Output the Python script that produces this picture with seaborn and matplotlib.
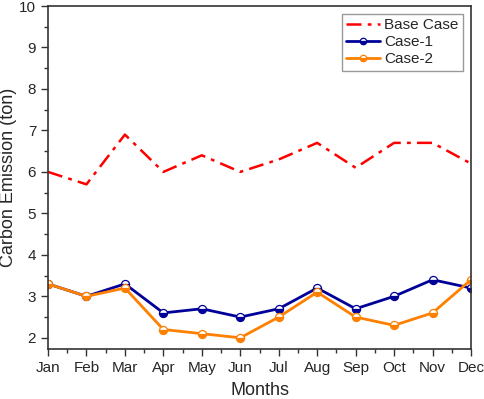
import matplotlib
matplotlib.use("Agg")
import matplotlib.pyplot as plt
import seaborn as sns
import pandas as pd
from matplotlib.ticker import MultipleLocator

months = ["Jan", "Feb", "Mar", "Apr", "May", "Jun", "Jul", "Aug", "Sep", "Oct", "Nov", "Dec"]
base_case = [6.0, 5.7, 6.9, 6.0, 6.4, 6.0, 6.3, 6.7, 6.1, 6.7, 6.7, 6.2]
case_1 = [3.3, 3.0, 3.3, 2.6, 2.7, 2.5, 2.7, 3.2, 2.7, 3.0, 3.4, 3.2]
case_2 = [3.3, 3.0, 3.2, 2.2, 2.1, 2.0, 2.5, 3.1, 2.5, 2.3, 2.6, 3.4]

sns.set_style("ticks")
plt.rcParams["font.family"] = ["Liberation Sans", "DejaVu Sans"]

df = pd.DataFrame({"m": list(range(1, 13)), "Base Case": base_case,
                   "Case-1": case_1, "Case-2": case_2})

fig = plt.figure(figsize=(4.84, 3.99), dpi=100)
ax = fig.add_axes([48/484, 1 - 349/399, (471-48)/484, (349-6)/399])

sns.lineplot(data=df, x="m", y="Base Case", ax=ax, color="#FF0000",
             linestyle=(0, (6, 2.5, 1.5, 2.5)), linewidth=1.8, label="Base Case")
sns.lineplot(data=df, x="m", y="Case-1", ax=ax, color="#000099", linewidth=2,
             marker="o", markersize=5.8, fillstyle="bottom", markerfacecoloralt="white",
             markeredgecolor="#000099", markerfacecolor="#000099", markeredgewidth=0.9,
             label="Case-1")
sns.lineplot(data=df, x="m", y="Case-2", ax=ax, color="#FF8000", linewidth=2,
             marker="o", markersize=5.8, fillstyle="bottom", markerfacecoloralt="white",
             markeredgecolor="#FF8000", markerfacecolor="#FF8000", markeredgewidth=0.9,
             label="Case-2")

ax.set_xlim(1, 12)
ax.set_ylim(1.73, 10)
ax.set_xticks(range(1, 13))
ax.set_xticklabels(months)
ax.xaxis.set_minor_locator(MultipleLocator(0.5))
ax.set_yticks(range(2, 11))
ax.yaxis.set_minor_locator(MultipleLocator(0.5))
ax.tick_params(axis="both", which="major", direction="out", length=5, width=1,
               labelsize=11, color="#333333", pad=3.5)
ax.tick_params(axis="both", which="minor", direction="out", length=3, width=1,
               color="#333333")
for s in ax.spines.values():
    s.set_linewidth(1.2)
    s.set_color("#333333")
    s.set_visible(True)

ax.set_xlabel("Months", fontsize=13, labelpad=5)
ax.set_ylabel("Carbon Emission (ton)", fontsize=13, labelpad=1.5)

leg = ax.legend(loc="upper right", fontsize=11, frameon=True, fancybox=False,
                edgecolor="#999999", framealpha=1, handlelength=2.2,
                handletextpad=0.3, borderpad=0.3, labelspacing=0.2,
                borderaxespad=0.5, markerscale=0.8)
leg.get_frame().set_linewidth(1)

fig.savefig("out.png", dpi=100)
